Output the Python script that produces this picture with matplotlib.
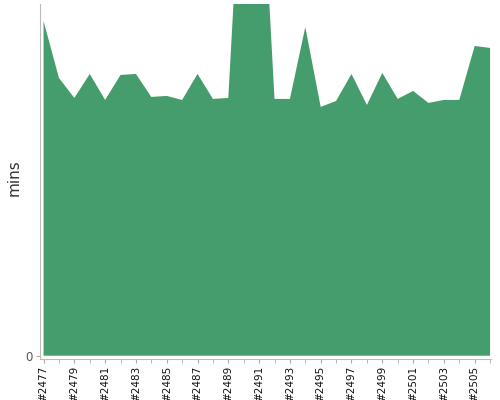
import numpy as np
import matplotlib
matplotlib.use('Agg')
import matplotlib.pyplot as plt

# build numbers and duration (mins)
builds = list(range(2477, 2507))
durations = [33.5, 27.8, 25.8, 28.2, 25.6, 28.1, 28.2, 25.9, 26.0, 25.6,
             28.2, 25.7, 25.8, 54.0, 54.2, 25.7, 25.7, 32.9, 24.9, 25.5,
             28.2, 25.1, 28.3, 25.7, 26.5, 25.3, 25.6, 25.6, 31.0, 30.8]
labels = ['#%d' % b for b in builds]

green = '#459c6c'

fig = plt.figure(figsize=(5, 4), dpi=100)
ax = fig.add_axes([0.08, 0.1025, 0.902, 0.8875])

x = np.arange(len(builds))
ax.fill_between(x, 0, durations, color=green, lw=0)

ax.set_xlim(-0.23, len(builds) - 1 + 0.06)
ax.set_ylim(-0.33, 35.2)

ax.set_xticks(x[::2])
ax.set_xticklabels(labels[::2], rotation=90, fontsize=7.5, color='#111111')
ax.set_xticks(x, minor=True)
ax.tick_params(axis='x', which='both', length=3, color='#aaaaaa', pad=2)
ax.set_yticks([0])
ax.tick_params(axis='y', length=3, color='#aaaaaa', labelsize=8.5,
               labelcolor='#555555', pad=2)
ax.set_ylabel('mins', fontsize=11, color='#333333')
ax.yaxis.set_label_coords(-0.04, 0.51)

for s in ['top', 'right']:
    ax.spines[s].set_visible(False)
for s in ['left', 'bottom']:
    ax.spines[s].set_color('#bbbbbb')

fig.savefig('out.png', dpi=100)
